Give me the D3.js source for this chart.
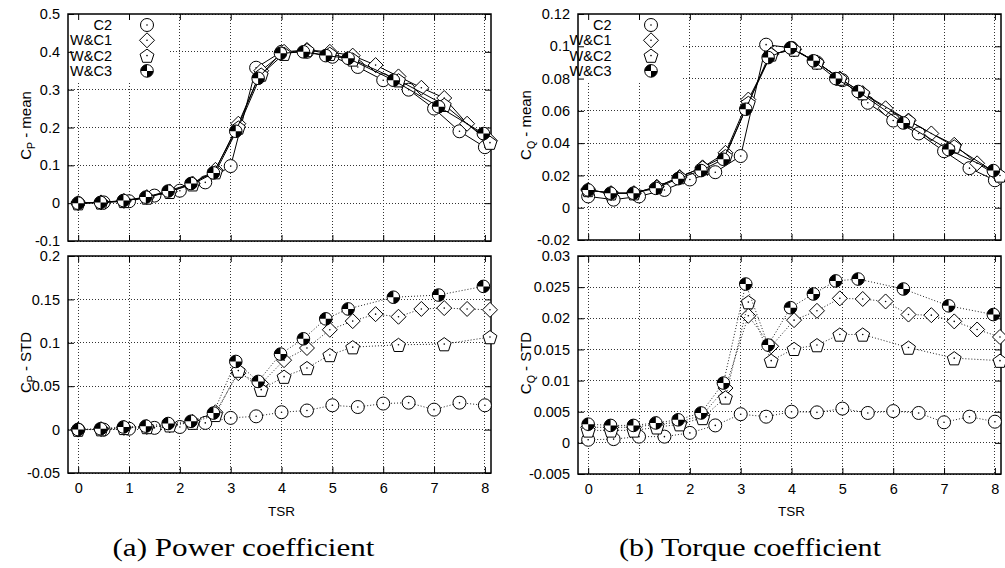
<html>

<head>
    <meta charset="utf-8">
    <script src="https://d3js.org/d3.v7.min.js"></script>
    <style>
        body { margin: 0; background: #fff; }
        svg text { font-family: "Liberation Sans", Arial, sans-serif; }
    </style>
</head>

<body>
    <div id="my_dataviz"></div>
</body>
<script>

    // TSR positions of each run
    var tsrC2 = [0, 0.5, 1, 1.5, 2, 2.5, 3, 3.5, 4, 4.5, 5, 5.5, 6, 6.5, 7, 7.5, 8];
    var tsrWC1 = [0, 0.45, 0.9, 1.35, 1.8, 2.25, 2.7, 3.15, 3.6, 4.05, 4.5, 4.95, 5.4, 5.85, 6.3, 6.75, 7.2, 7.65, 8.1];
    var tsrWC2 = [0, 0.45, 0.9, 1.35, 1.8, 2.25, 2.7, 3.15, 3.6, 4.05, 4.5, 4.95, 5.4, 6.3, 7.2, 8.1];
    var tsrWC3 = [0, 0.44, 0.89, 1.33, 1.77, 2.22, 2.66, 3.1, 3.54, 3.98, 4.43, 4.87, 5.31, 6.2, 7.09, 7.97];

    // power coefficient, mean
    var cpMeanC2 = [0, 0.002, 0.005, 0.02, 0.033, 0.055, 0.098, 0.358, 0.4, 0.4, 0.387, 0.36, 0.325, 0.3, 0.25, 0.19, 0.148];
    var cpMeanWC1 = [0, 0.002, 0.006, 0.016, 0.031, 0.052, 0.088, 0.21, 0.35, 0.4, 0.405, 0.4, 0.39, 0.365, 0.335, 0.305, 0.278, 0.21, 0.165];
    var cpMeanWC2 = [0, 0.002, 0.006, 0.015, 0.03, 0.05, 0.082, 0.2, 0.34, 0.395, 0.405, 0.395, 0.38, 0.325, 0.26, 0.16];
    var cpMeanWC3 = [0, 0.002, 0.007, 0.016, 0.032, 0.052, 0.08, 0.19, 0.33, 0.396, 0.4, 0.39, 0.383, 0.325, 0.255, 0.184];

    // power coefficient, standard deviation
    var cpStdC2 = [0, 0, 0.001, 0.002, 0.003, 0.0077, 0.0135, 0.0153, 0.02, 0.022, 0.028, 0.026, 0.03, 0.031, 0.023, 0.031, 0.028];
    var cpStdWC1 = [0, 0.0005, 0.002, 0.003, 0.005, 0.009, 0.02, 0.065, 0.053, 0.08, 0.094, 0.115, 0.125, 0.133, 0.13, 0.139, 0.14, 0.139, 0.138];
    var cpStdWC2 = [0, 0.0005, 0.002, 0.003, 0.005, 0.008, 0.017, 0.068, 0.046, 0.061, 0.071, 0.086, 0.095, 0.0977, 0.0985, 0.1066];
    var cpStdWC3 = [0, 0.001, 0.003, 0.004, 0.007, 0.0096, 0.019, 0.0785, 0.0555, 0.087, 0.1046, 0.1276, 0.139, 0.1525, 0.155, 0.165];

    // torque coefficient, mean
    var cqMeanC2 = [0.007, 0.005, 0.007, 0.011, 0.0175, 0.022, 0.032, 0.101, 0.099, 0.09, 0.079, 0.065, 0.054, 0.046, 0.035, 0.0245, 0.017];
    var cqMeanWC1 = [0.011, 0.009, 0.009, 0.013, 0.019, 0.025, 0.034, 0.067, 0.095, 0.098, 0.09, 0.08, 0.071, 0.0616, 0.054, 0.046, 0.039, 0.0275, 0.019];
    var cqMeanWC2 = [0.011, 0.009, 0.009, 0.013, 0.019, 0.025, 0.032, 0.065, 0.095, 0.098, 0.09, 0.08, 0.071, 0.054, 0.038, 0.02];
    var cqMeanWC3 = [0.011, 0.009, 0.009, 0.012, 0.018, 0.023, 0.03, 0.061, 0.093, 0.099, 0.091, 0.08, 0.072, 0.0525, 0.036, 0.023];

    // torque coefficient, standard deviation
    var cqStdC2 = [0.0005, 0.0006, 0.001, 0.001, 0.0016, 0.0028, 0.0046, 0.0042, 0.005, 0.0049, 0.0055, 0.0048, 0.0051, 0.0048, 0.0033, 0.0042, 0.0034];
    var cqStdWC1 = [0.0025, 0.0025, 0.0025, 0.003, 0.0033, 0.0045, 0.0088, 0.0204, 0.0155, 0.0197, 0.0212, 0.0232, 0.0231, 0.0227, 0.0206, 0.0205, 0.0195, 0.0182, 0.017];
    var cqStdWC2 = [0.002, 0.002, 0.002, 0.0025, 0.003, 0.004, 0.0073, 0.0226, 0.0132, 0.0151, 0.0157, 0.0174, 0.0174, 0.0153, 0.0136, 0.0132];
    var cqStdWC3 = [0.003, 0.0028, 0.0028, 0.0032, 0.0037, 0.0048, 0.0096, 0.0255, 0.0157, 0.0217, 0.0239, 0.026, 0.0263, 0.0247, 0.022, 0.0206];

    // tick labels
    var xTicks = [0, 1, 2, 3, 4, 5, 6, 7, 8];
    var cpMeanTicks = [-0.1, 0, 0.1, 0.2, 0.3, 0.4, 0.5];
    var cpStdTicks = [-0.05, 0, 0.05, 0.1, 0.15, 0.2];
    var cqMeanTicks = [-0.02, 0, 0.02, 0.04, 0.06, 0.08, 0.1, 0.12];
    var cqStdTicks = [-0.005, 0, 0.005, 0.01, 0.015, 0.02, 0.025, 0.03];

    var seriesNames = ["C2", "W&C1", "W&C2", "W&C3"];
    var symbols = ["circle", "diamond", "pentagon", "quad"];

    var svg = d3.select("#my_dataviz")
        .append("svg")
        .attr("width", 1005)
        .attr("height", 568)
        .style("display", "block");

    var crisp = function (v) { return Math.round(v - 0.5) + 0.5 };
    var fmt = function (d) { return String(+d.toFixed(4)) };

    // one symbol of gnuplot style
    function addMarker(g, type, cx, cy) {
        var m = g.append("g").attr("transform", "translate(" + cx + "," + cy + ")");
        var shape;
        if (type == "circle") {
            shape = m.append("circle").attr("r", 6.5);
        } else if (type == "diamond") {
            shape = m.append("path").attr("d", "M0,-7.5L7.5,0L0,7.5L-7.5,0Z");
        } else if (type == "pentagon") {
            var pts = d3.range(5).map(function (i) {
                var a = -Math.PI / 2 + i * 2 * Math.PI / 5;
                return [7.3 * Math.cos(a), 7.3 * Math.sin(a) + 0.8];
            });
            shape = m.append("path").attr("d", "M" + pts.join("L") + "Z");
        } else {
            shape = m.append("circle").attr("r", 6.3);
        }
        shape.attr("fill", "white").attr("stroke", "black").attr("stroke-width", 1);
        if (type == "quad") {
            var r = 6.3;
            m.append("path").attr("d", "M0,0L" + (-r) + ",0A" + r + "," + r + " 0 0,1 0," + (-r) + "Z").attr("fill", "black");
            m.append("path").attr("d", "M0,0L" + r + ",0A" + r + "," + r + " 0 0,1 0," + r + "Z").attr("fill", "black");
        } else {
            m.append("circle").attr("r", 0.8).attr("fill", "black");
        }
    }

    function drawPanel(p) {
        var x = d3.scaleLinear().domain([-0.2, 8.12]).range([p.left, p.right]);
        var y = d3.scaleLinear().domain(p.yDomain).range([p.bottom, p.top]);
        var g = svg.append("g");

        // dotted grid
        g.selectAll(".gx").data(xTicks).enter().append("line")
            .attr("x1", function (d) { return crisp(x(d)) })
            .attr("x2", function (d) { return crisp(x(d)) })
            .attr("y1", p.top).attr("y2", p.bottom)
            .attr("stroke", "#333").attr("stroke-dasharray", "1,2");
        g.selectAll(".gy").data(p.yTicks).enter().append("line")
            .attr("y1", function (d) { return crisp(y(d)) })
            .attr("y2", function (d) { return crisp(y(d)) })
            .attr("x1", p.left).attr("x2", p.right)
            .attr("stroke", "#333").attr("stroke-dasharray", "1,2");

        // legend background
        if (p.legend) {
            g.append("rect")
                .attr("x", p.left).attr("y", p.top)
                .attr("width", p.legend.boxW).attr("height", 68)
                .attr("fill", "white");
        }

        // axes with inward ticks
        var left = g.append("g").attr("transform", "translate(" + p.left + ",0)")
            .call(d3.axisLeft(y).tickValues(p.yTicks).tickSize(-6).tickPadding(8).tickFormat(fmt));
        g.append("g").attr("transform", "translate(" + p.right + ",0)")
            .call(d3.axisRight(y).tickValues(p.yTicks).tickSize(-6).tickFormat(""));
        g.append("g").attr("transform", "translate(0," + p.top + ")")
            .call(d3.axisTop(x).tickValues(xTicks).tickSize(-6).tickFormat(""));
        var bottom = g.append("g").attr("transform", "translate(0," + p.bottom + ")")
            .call(d3.axisBottom(x).tickValues(xTicks).tickSize(-6).tickPadding(10)
                .tickFormat(p.xLabels ? fmt : ""));
        g.selectAll(".domain").remove();
        g.selectAll(".tick line").attr("stroke", "black");
        g.selectAll(".tick text").attr("fill", "black")
            .style("font-size", "14.5px").style("font-family", "'Liberation Sans', Arial, sans-serif");

        g.append("rect")
            .attr("x", p.left).attr("y", p.top)
            .attr("width", p.right - p.left).attr("height", p.bottom - p.top)
            .attr("fill", "none").attr("stroke", "black").attr("stroke-width", 1.5);

        // y label with subscript
        var lab = g.append("text")
            .attr("transform", "translate(" + p.labelX + "," + ((p.top + p.bottom) / 2 - 2) + ") rotate(-90)")
            .attr("text-anchor", "middle")
            .style("font-size", "15px");
        lab.append("tspan").text("C");
        lab.append("tspan").attr("dy", 4).style("font-size", "10.5px").text(p.sub);
        lab.append("tspan").attr("dy", -4).text(" - " + p.what);

        // series: line then symbols
        var line = d3.line()
            .x(function (d) { return x(d[0]) })
            .y(function (d) { return y(d[1]) });
        p.series.forEach(function (s, i) {
            var pts = s.x.map(function (v, j) { return [v, s.y[j]] });
            g.append("path").datum(pts)
                .attr("d", line)
                .attr("fill", "none")
                .attr("stroke", p.dotted ? "#222" : "black")
                .attr("stroke-width", 1)
                .attr("stroke-dasharray", p.dotted ? "1,2" : null);
            pts.forEach(function (d) { addMarker(g, symbols[i], x(d[0]), y(d[1])) });
        });

        // legend entries
        if (p.legend) {
            seriesNames.forEach(function (name, i) {
                var yy = p.top + 11 + i * 15.3;
                g.append("text")
                    .attr("x", p.left + p.legend.textX).attr("y", yy + 5)
                    .attr("text-anchor", "end")
                    .style("font-size", "14.5px")
                    .text(name);
                addMarker(g, symbols[i], p.left + p.legend.symX, yy);
            });
        }

        if (p.xLabels) {
            g.append("text")
                .attr("x", x(4)).attr("y", 516)
                .attr("text-anchor", "middle")
                .style("font-size", "13.5px")
                .text("TSR");
        }
    }

    // (a) power coefficient
    drawPanel({
        left: 68, right: 491, top: 14, bottom: 241, yDomain: [-0.1, 0.5], yTicks: cpMeanTicks,
        labelX: 31, sub: "P", what: "mean", xLabels: false, dotted: false,
        legend: { boxW: 102, textX: 44, symX: 79 },
        series: [{ x: tsrC2, y: cpMeanC2 }, { x: tsrWC1, y: cpMeanWC1 }, { x: tsrWC2, y: cpMeanWC2 }, { x: tsrWC3, y: cpMeanWC3 }]
    });
    drawPanel({
        left: 68, right: 491, top: 256, bottom: 473, yDomain: [-0.05, 0.2], yTicks: cpStdTicks,
        labelX: 31, sub: "P", what: "STD", xLabels: true, dotted: true,
        series: [{ x: tsrC2, y: cpStdC2 }, { x: tsrWC1, y: cpStdWC1 }, { x: tsrWC2, y: cpStdWC2 }, { x: tsrWC3, y: cpStdWC3 }]
    });

    // (b) torque coefficient
    drawPanel({
        left: 578, right: 1001, top: 14, bottom: 240, yDomain: [-0.02, 0.12], yTicks: cqMeanTicks,
        labelX: 531, sub: "Q", what: "mean", xLabels: false, dotted: false,
        legend: { boxW: 104, textX: 33.5, symX: 73 },
        series: [{ x: tsrC2, y: cqMeanC2 }, { x: tsrWC1, y: cqMeanWC1 }, { x: tsrWC2, y: cqMeanWC2 }, { x: tsrWC3, y: cqMeanWC3 }]
    });
    drawPanel({
        left: 578, right: 1001, top: 256, bottom: 474, yDomain: [-0.005, 0.03], yTicks: cqStdTicks,
        labelX: 531, sub: "Q", what: "STD", xLabels: true, dotted: true,
        series: [{ x: tsrC2, y: cqStdC2 }, { x: tsrWC1, y: cqStdWC1 }, { x: tsrWC2, y: cqStdWC2 }, { x: tsrWC3, y: cqStdWC3 }]
    });

    // sub-figure captions
    [["(a) Power coefficient", 243.5], ["(b) Torque coefficient", 750]].forEach(function (c) {
        svg.append("text")
            .attr("x", c[1]).attr("y", 556)
            .attr("text-anchor", "middle")
            .attr("textLength", 262)
            .attr("lengthAdjust", "spacingAndGlyphs")
            .style("font-family", "'Liberation Serif', 'Times New Roman', serif")
            .style("font-size", "25px")
            .text(c[0]);
    });

</script>

</html>
